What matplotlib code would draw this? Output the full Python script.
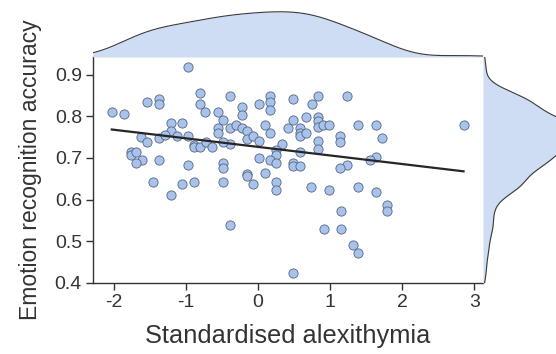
import numpy as np
import matplotlib
matplotlib.use("Agg")
import matplotlib.pyplot as plt

plt.rcParams['font.family'] = ['Liberation Sans', 'DejaVu Sans']

# Datos: alexitimia estandarizada vs. precision
alexitimia = [
    -0.97, -2.03, -1.86, -1.54, -1.37, -1.37, -0.81, -0.81, -0.73, -0.56,
    -0.39, -0.23, -0.23, 0.01, 0.17, 0.17, 0.17, 0.49, 0.75, 0.83,
    1.23, -1.21, -1.05, -1.21, -0.48, -0.56, -0.56, -0.39, -0.31, -0.23,
    -0.15, -0.15, -0.07, 0.01, 0.09, 0.17, -1.62, -1.54, -1.37, -1.29,
    -1.13, -0.97, -0.89, -0.89, -0.80, -0.72, -0.64, -0.39, 0.33, 0.25,
    0.25, 0.41, 0.49, 0.58, 0.58, 0.58, 0.66, 0.66, 0.58, 0.83,
    0.83, 0.83, 0.90, 0.98, 0.83, 0.83, 1.14, 1.14, 1.39, 1.63,
    2.85, 1.72, 1.63, 1.55, 1.23, 1.14, -1.77, -1.77, -1.70, -1.61,
    -1.70, -1.37, -0.97, -0.49, -0.49, 0.01, 0.17, 0.25, 0.49, 0.49,
    0.58, -0.15, -0.15, 0.09, -1.46, -1.05, -0.89, -1.21, -0.49, -0.07,
    0.25, 0.25, -0.39, 0.49, 0.74, 0.99, 1.15, 0.91, 1.15, 1.31,
    1.38, 1.38, 1.63, 1.79, 1.79, -0.48,
]
precision = [
    0.918, 0.810, 0.805, 0.835, 0.842, 0.829, 0.856, 0.829, 0.810, 0.810,
    0.848, 0.823, 0.804, 0.829, 0.848, 0.834, 0.816, 0.841, 0.829, 0.848,
    0.848, 0.784, 0.784, 0.765, 0.791, 0.772, 0.759, 0.772, 0.778, 0.772,
    0.765, 0.746, 0.752, 0.741, 0.778, 0.759, 0.751, 0.739, 0.747, 0.754,
    0.753, 0.753, 0.732, 0.725, 0.725, 0.738, 0.726, 0.733, 0.733, 0.720,
    0.706, 0.772, 0.791, 0.772, 0.759, 0.752, 0.759, 0.798, 0.714, 0.798,
    0.788, 0.773, 0.778, 0.778, 0.740, 0.721, 0.752, 0.739, 0.778, 0.778,
    0.778, 0.747, 0.702, 0.696, 0.682, 0.676, 0.714, 0.706, 0.714, 0.695,
    0.688, 0.695, 0.682, 0.688, 0.675, 0.700, 0.694, 0.688, 0.688, 0.681,
    0.681, 0.662, 0.656, 0.663, 0.642, 0.637, 0.642, 0.612, 0.642, 0.637,
    0.642, 0.624, 0.540, 0.425, 0.630, 0.624, 0.573, 0.529, 0.529, 0.490,
    0.471, 0.630, 0.618, 0.588, 0.573, 0.738,
]
x_ticks = [-2, -1, 0, 1, 2, 3]
y_ticks = [0.4, 0.5, 0.6, 0.7, 0.8, 0.9]

x = np.array(alexitimia)
y = np.array(precision)

xlim = (-2.29, 3.12)
ylim = (0.40, 0.942)

relleno = '#cfddf4'
punto = '#a7c3ec'
gris = '#3a3a3a'


def kde(datos, grid):
    # densidad gaussiana con ancho de banda tipo bw.nrd0 de R
    n = len(datos)
    iqr = np.subtract(*np.percentile(datos, [75, 25]))
    bw = 0.9 * min(np.std(datos, ddof=1), iqr / 1.34) * n ** (-0.2)
    z = (grid[:, None] - datos[None, :]) / bw
    return np.exp(-0.5 * z ** 2).sum(axis=1) / (n * bw * np.sqrt(2 * np.pi))


fig = plt.figure(figsize=(5.56, 3.54), dpi=100)
ax = fig.add_axes([0.1673, 0.2006, 0.7014, 0.6384])
ax_top = fig.add_axes([0.1673, 0.8390, 0.7014, 0.1610])
ax_der = fig.add_axes([0.8687, 0.2006, 0.1650, 0.6384])

# Grafico principal
ax.scatter(x, y, s=44, facecolor=punto, edgecolor='#56657f', linewidth=0.6, zorder=3)
coef = np.polyfit(x, y, 1)
xs = np.array([x.min(), x.max()])
ax.plot(xs, np.polyval(coef, xs), color='#262626', linewidth=1.6, zorder=4)

ax.set_xlim(*xlim)
ax.set_ylim(*ylim)
ax.set_xticks(x_ticks)
ax.set_xticklabels(['-2', '-1', '0', '1', '2', '3'])
ax.set_yticks(y_ticks)
ax.set_yticklabels([f'{v:.1f}' for v in y_ticks])
ax.tick_params(axis='both', labelsize=14, labelcolor='#333333', length=5,
               width=1.0, color='#333333', direction='out', pad=3)
for lado in ['top', 'right']:
    ax.spines[lado].set_visible(False)
for lado in ['left', 'bottom']:
    ax.spines[lado].set_color('#333333')
    ax.spines[lado].set_linewidth(1.0)
ax.set_xlabel('Standardised alexithymia', fontsize=18.3, color='#333333', labelpad=9)
ax.set_ylabel('Emotion recognition accuracy', fontsize=16.5, color='#333333', labelpad=9)

# Densidad marginal superior
gx = np.linspace(xlim[0], xlim[1], 400)
dx = kde(x, gx)
ax_top.fill_between(gx, 0, dx, color=relleno, linewidth=0)
ax_top.plot(gx, dx, color=gris, linewidth=0.8)
ax_top.set_xlim(*xlim)
ax_top.set_ylim(0, dx.max() * 1.26)
ax_top.axis('off')

# Densidad marginal derecha
gy = np.linspace(ylim[0], ylim[1], 400)
dy = kde(y, gy)
ax_der.fill_betweenx(gy, 0, dy, color=relleno, linewidth=0)
ax_der.plot(dy, gy, color=gris, linewidth=0.8)
ax_der.set_ylim(*ylim)
ax_der.set_xlim(0, dy.max() * 0.92)
ax_der.axis('off')

fig.savefig('out.png', dpi=100)
